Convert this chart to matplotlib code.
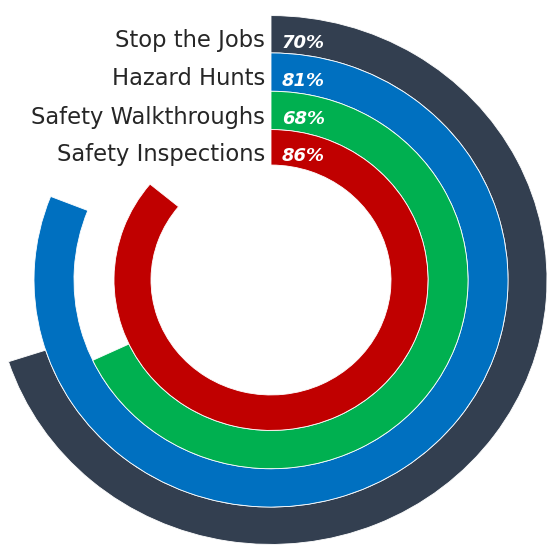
import matplotlib.pyplot as plt
from matplotlib.patches import Wedge

# data, outer ring first
categories = ['Stop the Jobs', 'Hazard Hunts', 'Safety Walkthroughs', 'Safety Inspections']
values = [70, 81, 68, 86]
colors = ['#333F50', '#0070C0', '#00B050', '#C00000']

ring_outer = [276, 237, 197, 157]
ring_inner = [237, 197, 157, 120]

fig = plt.figure(figsize=(5.51, 5.49), dpi=100)
ax = fig.add_axes([0, 0, 1, 1])
ax.set_axis_off()

for cat, val, col, r_out, r_in in zip(categories, values, colors, ring_outer, ring_inner):
    # clockwise from 12 o'clock
    theta_end = 90
    theta_start = 90 - val / 100 * 360
    w = Wedge((0, 0), r_out, theta_start, theta_end, width=r_out - r_in,
              facecolor=col, edgecolor='white', linewidth=0.6)
    ax.add_patch(w)
    r_mid = (r_out + r_in) / 2
    ax.text(-6, r_mid - 7, cat, ha='right', va='center', fontsize=16.3,
            color='#262626', family='DejaVu Sans')
    ax.text(11, r_mid - 9, f'{val}%', ha='left', va='center', fontsize=13,
            color='white', fontweight='bold', fontstyle='italic', family='DejaVu Sans')

# chart is slightly squashed vertically
sy = 0.958
ax.set_xlim(-271, 280)
ax.set_ylim(-269 / sy, 280 / sy)
ax.set_aspect('auto')

fig.savefig('out.png', dpi=100, facecolor='white')
